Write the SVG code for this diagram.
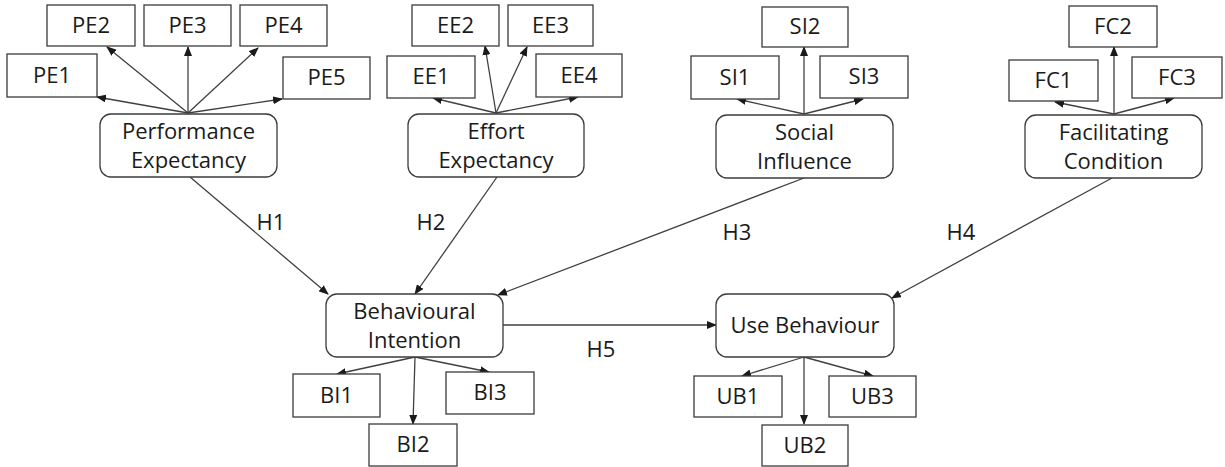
<svg xmlns="http://www.w3.org/2000/svg" width="1225" height="467" viewBox="0 0 1225 467">
  <style>
    .box { fill: #ffffff; stroke: #3b3b3b; stroke-width: 1.3; }
    .con { fill: #ffffff; stroke: #3b3b3b; stroke-width: 1.3; }
    .t { font-family: "Open Sans", "Noto Sans", sans-serif; font-size: 22px; fill: #1a1a1a; text-anchor: middle; }
    .edge { stroke: #404040; stroke-width: 1.3; fill: none; marker-end: url(#arrow); }
  </style>
  <defs>
    <marker id="arrow" markerUnits="userSpaceOnUse" markerWidth="10" markerHeight="8" refX="9" refY="4" orient="auto">
      <path d="M0,0 L10,4 L0,8 Z" fill="#1a1a1a"/>
    </marker>
  </defs>
  <rect width="1225" height="467" fill="#ffffff"/>

  <!-- connectors -->
  <g id="connectors">
    <!-- Performance Expectancy indicators -->
    <line class="edge" x1="188" y1="113" x2="97" y2="97"/>
    <line class="edge" x1="188" y1="113" x2="107" y2="47"/>
    <line class="edge" x1="188" y1="113" x2="188" y2="47"/>
    <line class="edge" x1="188" y1="113" x2="258" y2="48"/>
    <line class="edge" x1="188" y1="113" x2="282" y2="99"/>
    <!-- Effort Expectancy indicators -->
    <line class="edge" x1="496" y1="113" x2="433" y2="98"/>
    <line class="edge" x1="496" y1="113" x2="485" y2="46"/>
    <line class="edge" x1="496" y1="113" x2="527" y2="47"/>
    <line class="edge" x1="496" y1="113" x2="578" y2="97"/>
    <!-- Social Influence indicators -->
    <line class="edge" x1="804" y1="114" x2="737" y2="99"/>
    <line class="edge" x1="804" y1="114" x2="804" y2="47"/>
    <line class="edge" x1="804" y1="114" x2="863" y2="99"/>
    <!-- Facilitating Condition indicators -->
    <line class="edge" x1="1114" y1="114" x2="1055" y2="102"/>
    <line class="edge" x1="1114" y1="114" x2="1114" y2="47"/>
    <line class="edge" x1="1114" y1="114" x2="1174" y2="98"/>
    <!-- hypotheses -->
    <line class="edge" x1="190" y1="177" x2="328" y2="294"/>
    <line class="edge" x1="497" y1="177" x2="415" y2="294"/>
    <line class="edge" x1="804" y1="178" x2="498" y2="295"/>
    <line class="edge" x1="1112" y1="178" x2="892" y2="298"/>
    <line class="edge" x1="503" y1="325" x2="716" y2="325"/>
    <!-- Behavioural Intention indicators -->
    <line class="edge" x1="415" y1="357" x2="337" y2="374"/>
    <line class="edge" x1="415" y1="357" x2="413" y2="424"/>
    <line class="edge" x1="415" y1="357" x2="489" y2="372"/>
    <!-- Use Behaviour indicators -->
    <line class="edge" x1="804" y1="357" x2="742" y2="376"/>
    <line class="edge" x1="804" y1="357" x2="804" y2="424"/>
    <line class="edge" x1="804" y1="357" x2="873" y2="376"/>
    <!-- path labels -->
    <text class="t" x="271" y="230">H1</text>
    <text class="t" x="431" y="230">H2</text>
    <text class="t" x="737" y="240">H3</text>
    <text class="t" x="961" y="240">H4</text>
    <text class="t" x="601" y="357">H5</text>
  </g>

  <!-- Performance Expectancy -->
  <g id="pe">
    <rect class="con" x="100" y="114" width="177" height="63" rx="11"/>
    <text class="t" x="188.5" y="139">Performance</text>
    <text class="t" x="188.5" y="168">Expectancy</text>
  </g>
  <g id="pe1"><rect class="box" x="7" y="54" width="90" height="43"/><text class="t" x="52" y="83">PE1</text></g>
  <g id="pe2"><rect class="box" x="47" y="5" width="88" height="41"/><text class="t" x="91" y="33">PE2</text></g>
  <g id="pe3"><rect class="box" x="144" y="5" width="87" height="41"/><text class="t" x="187.5" y="33">PE3</text></g>
  <g id="pe4"><rect class="box" x="240" y="5" width="87" height="41"/><text class="t" x="283.5" y="33">PE4</text></g>
  <g id="pe5"><rect class="box" x="283" y="57" width="87" height="42"/><text class="t" x="326.5" y="85">PE5</text></g>

  <!-- Effort Expectancy -->
  <g id="ee">
    <rect class="con" x="408" y="114" width="176" height="63" rx="11"/>
    <text class="t" x="496" y="139">Effort</text>
    <text class="t" x="496" y="168">Expectancy</text>
  </g>
  <g id="ee1"><rect class="box" x="387" y="56" width="88" height="42"/><text class="t" x="431" y="84">EE1</text></g>
  <g id="ee2"><rect class="box" x="412" y="5" width="87" height="41"/><text class="t" x="455.5" y="33">EE2</text></g>
  <g id="ee3"><rect class="box" x="508" y="5" width="85" height="41"/><text class="t" x="550.5" y="33">EE3</text></g>
  <g id="ee4"><rect class="box" x="536" y="54" width="86" height="43"/><text class="t" x="579" y="83">EE4</text></g>

  <!-- Social Influence -->
  <g id="si">
    <rect class="con" x="716" y="115" width="177" height="63" rx="11"/>
    <text class="t" x="804.5" y="140">Social</text>
    <text class="t" x="804.5" y="169">Influence</text>
  </g>
  <g id="si1"><rect class="box" x="691" y="56" width="88" height="43"/><text class="t" x="735" y="85">SI1</text></g>
  <g id="si2"><rect class="box" x="762" y="7" width="86" height="40"/><text class="t" x="805" y="34">SI2</text></g>
  <g id="si3"><rect class="box" x="820" y="56" width="88" height="42"/><text class="t" x="864" y="84">SI3</text></g>

  <!-- Facilitating Condition -->
  <g id="fc">
    <rect class="con" x="1025" y="115" width="177" height="63" rx="11"/>
    <text class="t" x="1113.5" y="140">Facilitating</text>
    <text class="t" x="1113.5" y="169">Condition</text>
  </g>
  <g id="fc1"><rect class="box" x="1009" y="60" width="89" height="41"/><text class="t" x="1053.5" y="88">FC1</text></g>
  <g id="fc2"><rect class="box" x="1069" y="6" width="88" height="41"/><text class="t" x="1113" y="34">FC2</text></g>
  <g id="fc3"><rect class="box" x="1132" y="57" width="90" height="41"/><text class="t" x="1177" y="85">FC3</text></g>

  <!-- Behavioural Intention -->
  <g id="bi">
    <rect class="con" x="326" y="294" width="177" height="63" rx="11"/>
    <text class="t" x="414.5" y="319">Behavioural</text>
    <text class="t" x="414.5" y="348">Intention</text>
  </g>
  <g id="bi1"><rect class="box" x="293" y="374" width="87" height="43"/><text class="t" x="336.5" y="403">BI1</text></g>
  <g id="bi2"><rect class="box" x="369" y="424" width="88" height="42"/><text class="t" x="413" y="452">BI2</text></g>
  <g id="bi3"><rect class="box" x="446" y="372" width="88" height="42"/><text class="t" x="490" y="400">BI3</text></g>

  <!-- Use Behaviour -->
  <g id="ub">
    <rect class="con" x="716" y="294" width="178" height="63" rx="11"/>
    <text class="t" x="805" y="333">Use Behaviour</text>
  </g>
  <g id="ub1"><rect class="box" x="694" y="376" width="88" height="41"/><text class="t" x="738" y="404">UB1</text></g>
  <g id="ub2"><rect class="box" x="762" y="425" width="86" height="41"/><text class="t" x="805" y="453">UB2</text></g>
  <g id="ub3"><rect class="box" x="829" y="376" width="87" height="41"/><text class="t" x="872.5" y="404">UB3</text></g>
</svg>
